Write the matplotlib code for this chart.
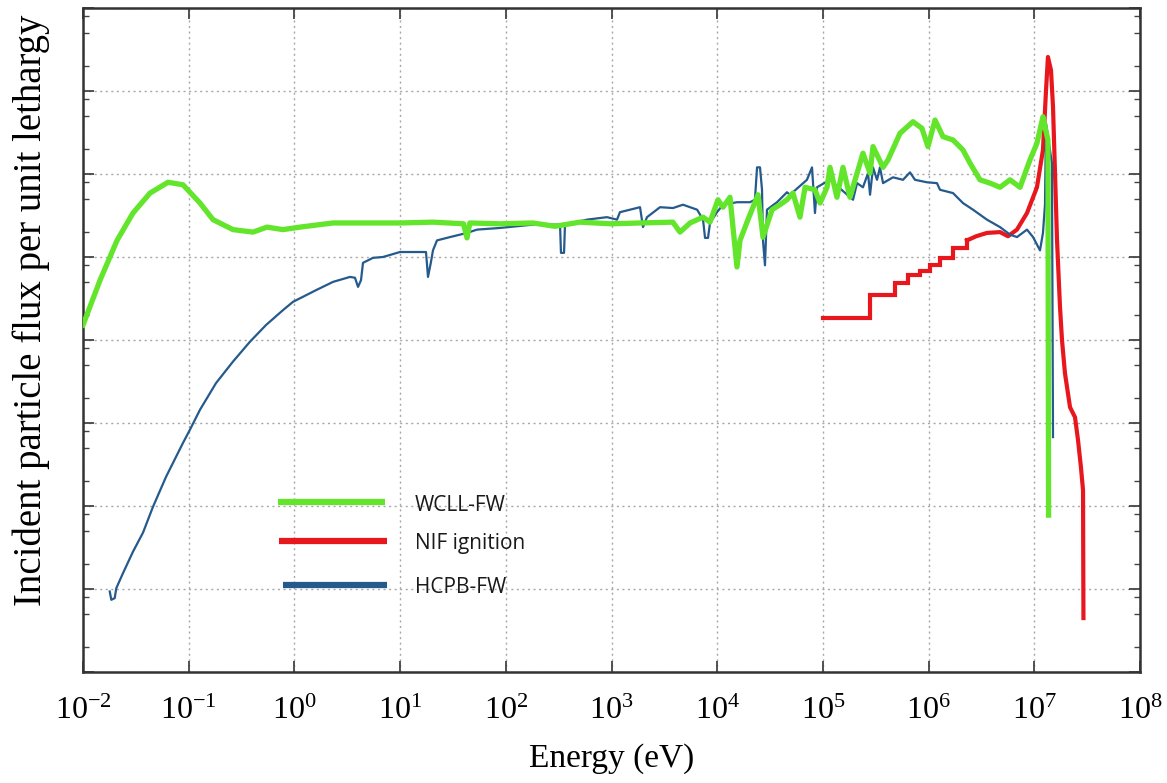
import numpy as np
import matplotlib
matplotlib.use("Agg")
import matplotlib.pyplot as plt
from matplotlib.ticker import LogLocator, NullFormatter, FixedLocator

# ---------------- data (log10 of energy in eV, log10 of flux, arbitrary units) ----------------
wcll_log_e = [-2.00, -1.839, -1.678, -1.527, -1.366, -1.196, -1.054, -0.893, -0.770, -0.581,
              -0.392, -0.259, -0.108, 0.053, 0.365, 0.687, 1.000, 1.311, 1.600, 1.633,
              1.66, 1.945, 2.257, 2.465, 2.702, 2.995, 3.27, 3.58, 3.648, 3.743,
              3.866, 3.932, 4.007, 4.055, 4.121, 4.187, 4.216, 4.291, 4.386, 4.433,
              4.519, 4.594, 4.660, 4.717, 4.783, 4.831, 4.925, 4.973, 5.039, 5.067,
              5.133, 5.190, 5.256, 5.379, 5.446, 5.474, 5.569, 5.616, 5.729, 5.852,
              5.937, 5.994, 6.061, 6.136, 6.231, 6.325, 6.392, 6.486, 6.581, 6.676,
              6.770, 6.865, 6.959, 7.025, 7.082, 7.101, 7.129, 7.135]
wcll_log_flux = [4.18, 4.72, 5.20, 5.53, 5.77, 5.90, 5.87, 5.65, 5.45, 5.33,
                 5.30, 5.36, 5.33, 5.36, 5.41, 5.41, 5.41, 5.42, 5.40, 5.23,
                 5.41, 5.40, 5.41, 5.37, 5.42, 5.40, 5.41, 5.42, 5.30, 5.41,
                 5.48, 5.42, 5.69, 5.60, 5.72, 4.88, 5.20, 5.45, 5.75, 5.24,
                 5.57, 5.63, 5.69, 5.77, 5.48, 5.84, 5.81, 5.65, 5.84, 6.08,
                 5.72, 6.08, 5.72, 6.25, 6.01, 6.33, 6.08, 6.17, 6.49, 6.63,
                 6.55, 6.33, 6.65, 6.45, 6.41, 6.29, 6.13, 5.93, 5.89, 5.84,
                 5.93, 5.84, 6.17, 6.37, 6.69, 6.57, 6.41, 1.89]

hcpb_log_e = [-1.747, -1.732, -1.700, -1.685, -1.622, -1.527, -1.432, -1.338, -1.215, -1.054,
              -0.988, -0.893, -0.742, -0.581, -0.420, -0.269, -0.108, -0.013, 0.204, 0.365,
              0.526, 0.573, 0.602, 0.630, 0.649, 0.744, 0.838, 0.999, 1.188, 1.245,
              1.264, 1.292, 1.311, 1.349, 1.472, 1.633, 1.728, 1.945, 2.257, 2.513,
              2.522, 2.551, 2.560, 2.768, 2.957, 3.052, 3.080, 3.270, 3.298, 3.336,
              3.459, 3.582, 3.676, 3.743, 3.810, 3.866, 3.885, 3.913, 3.932, 3.998,
              4.055, 4.187, 4.310, 4.357, 4.377, 4.405, 4.424, 4.433, 4.452, 4.471,
              4.566, 4.660, 4.689, 4.849, 4.897, 4.925, 4.944, 5.067, 5.285, 5.323,
              5.379, 5.427, 5.446, 5.474, 5.512, 5.540, 5.569, 5.663, 5.758, 5.824,
              5.871, 5.985, 6.079, 6.108, 6.231, 6.325, 6.420, 6.552, 6.676, 6.770,
              6.836, 6.931, 6.988, 7.054, 7.082, 7.101, 7.111, 7.148, 7.167, 7.177]
hcpb_log_flux = [0.97, 0.87, 0.89, 1.01, 1.19, 1.45, 1.68, 1.99, 2.35, 2.76,
                 2.92, 3.16, 3.48, 3.74, 3.98, 4.18, 4.36, 4.46, 4.60, 4.70,
                 4.76, 4.75, 4.64, 4.72, 4.93, 4.99, 5.00, 5.06, 5.06, 5.06,
                 4.76, 4.94, 5.08, 5.20, 5.24, 5.29, 5.33, 5.35, 5.39, 5.39,
                 5.05, 5.05, 5.39, 5.45, 5.48, 5.45, 5.54, 5.60, 5.36, 5.48,
                 5.60, 5.59, 5.63, 5.60, 5.57, 5.45, 5.23, 5.23, 5.41, 5.54,
                 5.63, 5.66, 5.66, 5.69, 6.08, 6.08, 5.81, 5.20, 4.90, 5.57,
                 5.66, 5.78, 5.75, 5.93, 6.08, 5.53, 5.84, 5.93, 5.69, 5.89,
                 5.84, 6.01, 5.75, 6.08, 5.93, 6.08, 5.89, 5.96, 5.93, 6.02,
                 5.93, 5.90, 5.89, 5.81, 5.77, 5.65, 5.57, 5.45, 5.36, 5.27,
                 5.24, 5.33, 5.24, 5.08, 5.29, 5.63, 6.61, 6.29, 6.13, 2.83]

nif_step_log_e = [5.0, 5.446, 5.682, 5.805, 5.919, 6.013, 6.108, 6.231, 6.363]
nif_step_log_flux = [4.27, 4.54, 4.69, 4.78, 4.83, 4.90, 4.99, 5.11, 5.20]
nif_log_e = [6.363, 6.45, 6.552, 6.676, 6.751, 6.836, 6.931, 7.025, 7.082, 7.111,
             7.129, 7.158, 7.177, 7.196, 7.215, 7.243, 7.262, 7.290, 7.338, 7.385,
             7.413, 7.441, 7.461, 7.465]
nif_log_flux = [5.20, 5.25, 5.29, 5.30, 5.25, 5.33, 5.53, 5.84, 6.29, 7.01,
                7.41, 7.25, 6.81, 6.01, 5.20, 4.40, 4.00, 3.60, 3.19, 3.07,
                2.80, 2.47, 2.19, 0.65]

series_labels = ["WCLL-FW", "NIF ignition", "HCPB-FW"]
x_decades = list(range(-2, 9))
y_decades = list(range(0, 9))

# ---------------- style ----------------
GREEN = "#62e52b"
RED = "#e8161d"
BLUE = "#245a8c"
plt.rcParams["mathtext.fontset"] = "custom"
plt.rcParams["mathtext.rm"] = "Liberation Serif"
plt.rcParams["mathtext.it"] = "Liberation Serif:italic"

fig = plt.figure(figsize=(11.67, 7.83), dpi=100)
ax = fig.add_axes([83 / 1167, 1 - 672 / 783, 1057 / 1167, 664 / 783])

p = lambda a: 10.0 ** np.asarray(a)

ax.plot(p(nif_step_log_e), p(nif_step_log_flux), color=RED, lw=3.0, drawstyle="steps-post", zorder=2,
        solid_joinstyle="miter")
ax.plot(p(nif_log_e), p(nif_log_flux), color=RED, lw=3.0, zorder=2)
ax.plot(p(hcpb_log_e), p(hcpb_log_flux), color=BLUE, lw=1.6, zorder=3)
ax.plot(p(wcll_log_e), p(wcll_log_flux), color=GREEN, lw=3.8, zorder=4)

ax.set_xscale("log")
ax.set_yscale("log")
ax.set_xlim(10.0 ** x_decades[0], 10.0 ** x_decades[-1])
ax.set_ylim(10.0 ** y_decades[0], 10.0 ** y_decades[-1])

ax.xaxis.set_major_locator(FixedLocator([10.0 ** k for k in x_decades]))
ax.xaxis.set_minor_locator(FixedLocator([]))
ax.set_xticklabels([rf"$10^{{{k}}}$" for k in x_decades], fontsize=23, family="Liberation Serif")
ax.yaxis.set_major_locator(FixedLocator([10.0 ** k for k in y_decades]))
ax.yaxis.set_minor_locator(LogLocator(base=10, subs=(2.0, 5.0, 8.0)))
ax.yaxis.set_major_formatter(NullFormatter())
ax.yaxis.set_minor_formatter(NullFormatter())

ax.tick_params(axis="both", which="major", direction="in", top=True, right=True,
               length=8, width=1.3, color="#444444", pad=18)
ax.tick_params(axis="y", which="minor", direction="in", left=True, right=True, length=4, width=1.0,
               color="#444444")
for s in ax.spines.values():
    s.set_color("#333333")
    s.set_linewidth(1.8)

ax.grid(True, which="major", linestyle=(0, (1.5, 2.5)), color="#a8a8a8", linewidth=1.0)
ax.set_axisbelow(True)

ax.set_xlabel("Energy (eV)", fontsize=24, family="Liberation Serif", labelpad=12)
ax.set_ylabel("Incident particle flux per unit lethargy", fontsize=28, family="Liberation Serif")
ax.yaxis.set_label_coords(-0.031, 0.545)

# manual legend
leg = [(GREEN, 0.1845, 0.2857, 0.256, 0.2515),
       (RED, 0.1854, 0.2876, 0.1973, 0.194),
       (BLUE, 0.1892, 0.2876, 0.131, 0.128)]
for (c, x0, x1, yl, yt), lab in zip(leg, series_labels):
    ax.plot([x0, x1], [yl, yl], transform=ax.transAxes, color=c, lw=4.5, solid_capstyle="butt",
            zorder=5)
    ax.text(0.314, yt, lab, transform=ax.transAxes, fontsize=15, family="Open Sans",
            va="center", ha="left", color="#1a1a1a")

fig.savefig("out.png", dpi=100)
